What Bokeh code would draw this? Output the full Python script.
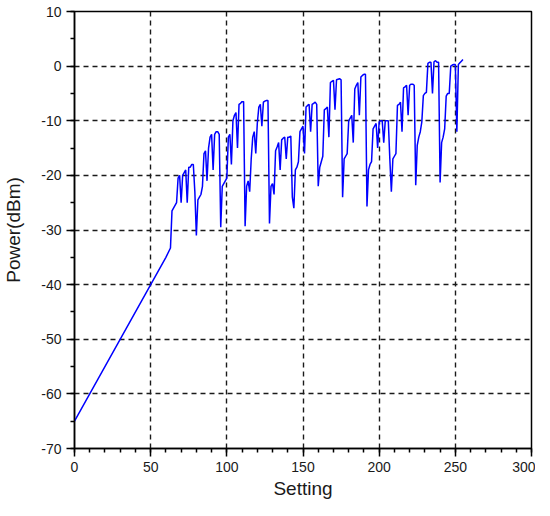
from bokeh.plotting import figure
from bokeh.models import Range1d, SingleIntervalTicker, PrintfTickFormatter
from bokeh.embed import file_html
from bokeh.resources import INLINE

# Settings 0..63 form a straight ramp; above 63 every setting is listed
ramp_setting = [0, 60, 63]
ramp_power = [-65.0, -35.0, -33.3]

setting_hi = list(range(64, 256))
power_hi = [
    # 64-79
    -26.5, -26.0, -25.5, -25.0, -20.5, -20.0, -25.0, -20.0,
    -19.5, -19.0, -25.0, -18.5, -18.5, -18.0, -18.0, -23.0,
    # 80-95
    -31.0, -24.5, -24.0, -23.5, -22.0, -16.0, -15.5, -21.0,
    -15.0, -13.0, -12.5, -19.0, -12.5, -12.0, -12.0, -12.5,
    # 96-111
    -29.5, -22.0, -21.5, -21.0, -20.5, -13.0, -12.5, -18.0,
    -10.0, -9.0, -8.5, -15.0, -7.0, -6.8, -6.5, -6.5,
    # 112-127
    -29.3, -22.0, -21.0, -23.0, -17.0, -13.0, -12.0, -16.0,
    -10.5, -7.5, -7.0, -11.0, -6.6, -6.4, -6.3, -6.3,
    # 128-143
    -28.8, -22.0, -21.5, -23.5, -15.5, -14.8, -14.0, -19.0,
    -13.5, -13.2, -13.0, -17.0, -13.0, -13.0, -12.8, -24.0,
    # 144-159
    -26.0, -19.0, -18.5, -17.5, -12.0, -11.5, -11.0, -16.0,
    -7.5, -7.2, -7.0, -12.0, -7.0, -6.8, -6.6, -7.0,
    # 160-175
    -22.0, -18.5, -17.5, -16.5, -8.0, -7.8, -7.5, -13.0,
    -3.0, -2.8, -2.6, -8.0, -2.5, -2.4, -2.3, -2.5,
    # 176-191
    -24.0, -17.0, -16.5, -16.0, -10.0, -9.5, -9.0, -14.0,
    -4.2, -3.5, -3.0, -9.0, -2.0, -1.7, -1.5, -1.5,
    # 192-207
    -25.7, -19.0, -18.0, -17.5, -11.5, -11.0, -10.5, -15.0,
    -10.2, -10.0, -10.0, -14.0, -10.0, -10.0, -10.0, -17.0,
    # 208-223
    -23.0, -17.0, -16.5, -16.0, -7.2, -7.0, -6.6, -12.0,
    -4.0, -3.8, -3.5, -9.0, -3.5, -3.3, -3.3, -3.5,
    # 224-239
    -21.8, -14.5, -13.0, -12.0, -10.2, -5.4, -5.0, -4.8,
    0.5, 0.7, 0.7, -5.0, 0.8, 1.0, 0.7, 0.7,
    # 240-255
    -21.3, -14.0, -13.0, -11.5, -5.5, -5.0, -5.0, 0.0,
    0.2, 0.3, 0.3, -12.0, 0.3, 0.6, 0.9, 1.2,
]

settings = ramp_setting + setting_hi
power = ramp_power + power_hi

p = figure(width=534, height=500, output_backend="svg", toolbar_location=None,
           x_range=Range1d(0, 300), y_range=Range1d(-70, 10))
p.frame_width = 457
p.frame_height = 437
p.min_border_left = 73
p.min_border_right = 4
p.min_border_top = 11
p.min_border_bottom = 20
p.background_fill_color = "white"
p.border_fill_color = "white"
p.outline_line_color = "black"
p.outline_line_width = 1.5
p.outline_line_alpha = 1

p.line(settings, power, line_color="#0000ff", line_width=1.5)

font = "Liberation Sans"
for ax in (p.xaxis[0], p.yaxis[0]):
    ax.axis_line_color = "black"
    ax.axis_line_width = 1.5
    ax.major_tick_line_color = "black"
    ax.major_tick_line_width = 1.5
    ax.minor_tick_line_color = "black"
    ax.minor_tick_line_width = 1.5
    ax.major_tick_out = 8
    ax.major_tick_in = 0
    ax.minor_tick_out = 4
    ax.minor_tick_in = 0
    ax.major_label_text_font = font
    ax.major_label_text_font_size = "14px"
    ax.major_label_text_color = "#1a1a1a"
    ax.axis_label_text_font = font
    ax.axis_label_text_font_size = "19px"
    ax.axis_label_text_font_style = "normal"
    ax.axis_label_text_color = "#1a1a1a"
    ax.formatter = PrintfTickFormatter(format="%d")

p.xaxis.ticker = SingleIntervalTicker(interval=50, num_minor_ticks=5)
p.yaxis.ticker = SingleIntervalTicker(interval=10, num_minor_ticks=2)
p.xaxis.axis_label = "Setting"
p.yaxis.axis_label = "Power(dBm)"
p.xaxis.major_label_standoff = 5
p.yaxis.major_label_standoff = 5
p.xaxis.axis_label_standoff = 3
p.yaxis.axis_label_standoff = 14

for g in (p.xgrid[0], p.ygrid[0]):
    g.grid_line_color = "#1a1a1a"
    g.grid_line_width = 1.4
    g.grid_line_dash = "5 4"

open("out.html", "w").write(file_html(p, INLINE))
